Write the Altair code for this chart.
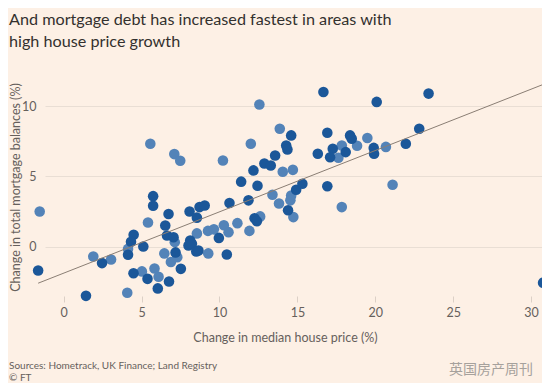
import altair as alt
import pandas as pd

# ---- data ----
light_x = [-1.54, 1.90, 3.04, 4.08, 4.13, 5.41, 5.02, 5.83, 6.09, 6.46, 6.88, 7.29, 7.13, 5.56, 7.10,
           7.48, 10.22, 12.01, 12.56, 13.87, 8.55, 9.28, 9.26, 9.64, 10.28, 10.58, 11.15, 11.92, 12.61,
           13.40, 13.82, 14.06, 14.71, 14.60, 14.55, 14.74, 17.63, 17.85, 18.83, 19.49, 20.68, 17.85, 21.11]
light_y = [2.51, -0.69, -0.90, -3.27, -0.15, 1.73, -1.75, -1.55, -2.13, -0.47, -1.08, -0.74, 0.33, 7.32, 6.59,
           6.12, 6.14, 7.32, 10.11, 8.39, 0.95, -0.47, 1.13, 1.24, 1.53, 1.04, 1.68, 1.13, 2.16,
           3.70, 3.08, 5.34, 5.47, 3.65, 3.30, 2.11, 6.33, 7.20, 7.18, 7.73, 7.10, 2.82, 4.41]

dark_x = [-1.64, 1.43, 2.46, 4.13, 4.49, 4.32, 5.11, 4.48, 5.38, 6.04, 6.76, 7.52, 5.74, 5.74, 6.73, 6.52,
          6.63, 7.05, 7.18, 8.08, 8.55, 8.72, 9.05, 8.12, 8.01, 8.23, 8.51, 8.65, 9.96, 10.47, 10.64, 11.39,
          11.86, 12.18, 12.44, 12.25, 12.40, 12.88, 13.29, 13.57, 14.60, 14.28, 14.36, 16.67, 16.92, 16.92,
          16.31, 17.27, 17.10, 18.10, 18.38, 18.49, 14.40, 14.92, 15.32, 19.90, 19.92, 21.96, 22.82, 23.42,
          20.09, 30.77]
dark_y = [-1.69, -3.49, -1.16, -0.57, 0.85, 0.36, 0.02, -1.88, -2.28, -2.96, -2.47, -1.57, 3.60, 2.92, 2.33, 1.51,
          0.80, 0.68, -0.40, 2.51, 2.07, 2.82, 2.93, 0.45, 0.09, 0.21, -0.33, -0.26, 0.63, -0.55, 3.11, 4.63,
          3.30, 5.43, 4.34, 2.03, 1.82, 5.92, 5.78, 6.49, 7.92, 7.20, 6.92, 11.0, 8.11, 4.30,
          6.61, 6.97, 6.37, 6.73, 7.92, 7.68, 2.60, 4.06, 4.48, 7.03, 6.61, 7.32, 8.39, 10.89,
          10.30, -2.56]

trend_x = [-1.64, 30.77]
trend_y = [-2.59, 11.54]

x_ticks = [0, 5, 10, 15, 20, 25, 30]
y_ticks = [0, 5, 10]

title_lines = ["And mortgage debt has increased fastest in areas with", "high house price growth"]
x_title = "Change in median house price (%)"
y_title = "Change in total mortgage balances (%)"
source_text = "Sources: Hometrack, UK Finance; Land Registry"
credit_text = "© FT"
watermark_text = "英国房产周刊"

# ---- tables ----
points = pd.DataFrame({
    "x": light_x + dark_x,
    "y": light_y + dark_y,
    "group": ["light"] * len(light_x) + ["dark"] * len(dark_x),
})
trend = pd.DataFrame({"x": trend_x, "y": trend_y})

BG = "#fdf0e5"
FONT = "Lato"
GREY = "#66605c"

xscale = alt.Scale(domain=[-1.2, 30.7], nice=False, zero=False)
yscale = alt.Scale(domain=[-3.5, 12], nice=False, zero=False)

xaxis = alt.Axis(values=x_ticks, grid=False, domain=False, ticks=True, tickSize=6,
                 tickColor="#dcd0c6", labelFont=FONT, labelFontSize=12.5, labelColor=GREY,
                 labelPadding=4, title=x_title, titleFont=FONT, titleFontSize=12.5,
                 titleFontWeight="normal", titleColor=GREY, titleX=240, titleY=41,
                 titleBaseline="middle", titleAlign="center")
yaxis = alt.Axis(values=y_ticks, grid=True, gridColor="#e9ded4", gridWidth=1, domain=False,
                 ticks=False, tickSize=0, labelFont=FONT, labelFontSize=12.5, labelColor=GREY,
                 labelPadding=9, title=y_title, titleFont=FONT, titleFontSize=12.5,
                 titleFontWeight="normal", titleColor=GREY, titleX=-30, titleY=109,
                 titleAngle=270, titleBaseline="middle", titleAlign="center")

dots = alt.Chart(points).mark_circle(size=112, opacity=1).encode(
    x=alt.X("x:Q", scale=xscale, axis=xaxis),
    y=alt.Y("y:Q", scale=yscale, axis=yaxis),
    color=alt.Color("group:N", scale=alt.Scale(domain=["light", "dark"], range=["#5383b8", "#1b5799"]),
                    legend=None),
    order=alt.Order("group:N", sort="descending"),
)

line = alt.Chart(trend).mark_line(color="#8a7e74", strokeWidth=1).encode(
    x=alt.X("x:Q", scale=xscale),
    y=alt.Y("y:Q", scale=yscale),
)


def label(text, x, y, size, color, font=FONT, align="left"):
    return alt.Chart(alt.Data(values=[{"t": text}])).mark_text(
        font=font, fontSize=size, color=color, align=align, baseline="alphabetic"
    ).encode(x=alt.value(x), y=alt.value(y), text="t:N")


title1 = label(title_lines[0], -36, -53, 16.2, "#33302e")
title2 = label(title_lines[1], -36, -31, 16.2, "#33302e")
src = label(source_text, -36, 291, 10, GREY)
cred = label(credit_text, -36, 303, 10, GREY)
wm = label(watermark_text, 488, 296, 14, "#a6a19c", font="Noto Sans CJK SC", align="right")

chart = alt.layer(dots, line, title1, title2, src, cred, wm).properties(
    width=497, height=218,
    autosize=alt.AutoSizeParams(type="none"),
    padding={"left": 37, "top": 70, "right": 0, "bottom": 87},
).configure(background=BG).configure_view(stroke=None)

chart.save("out.html", embed_options={"renderer": "svg", "actions": False})
